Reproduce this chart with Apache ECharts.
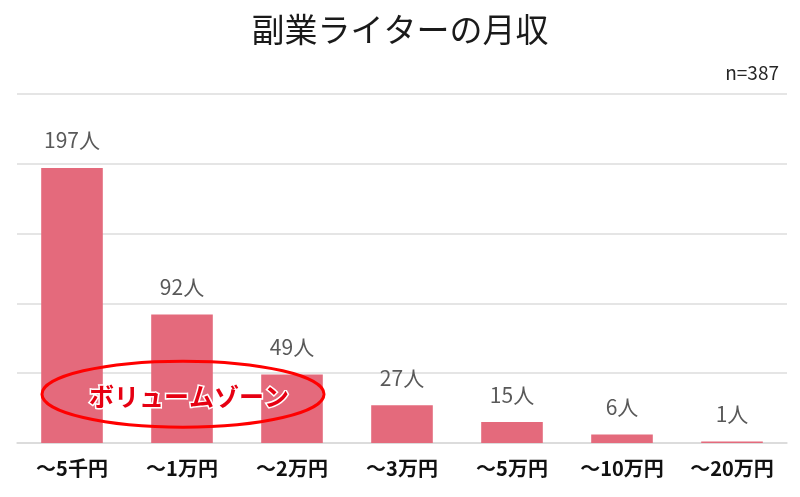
<!DOCTYPE html>
<html>
<head>
<meta charset="utf-8">
<script src="https://cdn.jsdelivr.net/npm/echarts@6/dist/echarts.min.js"></script>
<style>
	html, body { margin: 0; padding: 0; background: #fff; }
	#main { width: 800px; height: 497px; }
</style>
</head>
<body>
<div id="main"></div>
<script>
var categories = ['～5千円', '～1万円', '～2万円', '～3万円', '～5万円', '～10万円', '～20万円'];
var counts = [197, 92, 49, 27, 15, 6, 1];
var sampleSize = 387;

var font = '"Noto Sans CJK JP", "Noto Sans", sans-serif';

var chart = echarts.init(document.getElementById('main'));

chart.setOption({
	backgroundColor: '#fff',
	textStyle: { fontFamily: font },
	title: [{
		text: '副業ライターの月収',
		left: 'center',
		top: 8,
		textStyle: { fontSize: 33, fontWeight: 'normal', color: '#1a1a1a', fontFamily: font }
	}, {
		text: 'n=' + sampleSize,
		right: 16,
		top: 58,
		textStyle: { fontSize: 19, fontWeight: 'normal', color: '#262626', fontFamily: font }
	}],
	grid: { left: 17, right: 13, top: 94, bottom: 54, containLabel: false },
	xAxis: {
		type: 'category',
		data: categories,
		axisTick: { show: false },
		axisLine: { lineStyle: { color: '#d9d9d9', width: 1.5 } },
		axisLabel: {
			interval: 0,
			hideOverlap: false,
			fontSize: 20,
			fontWeight: 'bold',
			color: '#111',
			margin: 15,
			fontFamily: font
		}
	},
	yAxis: {
		type: 'value',
		min: 0,
		max: 250,
		interval: 50,
		axisLabel: { show: false },
		axisLine: { show: false },
		axisTick: { show: false },
		splitLine: { lineStyle: { color: '#dcdcdc', width: 1.5 } }
	},
	series: [{
		type: 'bar',
		data: counts,
		barWidth: '56%',
		itemStyle: { color: '#e46a7c' },
		label: {
			show: true,
			position: 'top',
			distance: 17,
			formatter: '{c}人',
			fontSize: 21,
			color: '#595959',
			fontFamily: font
		}
	}]
});

// ボリュームゾーン annotation around the first three bars
var c = chart.convertToPixel({ seriesIndex: 0 }, [1, 35]);
chart.setOption({
	graphic: [{
		type: 'ellipse',
		shape: { cx: c[0] + 1, cy: c[1], rx: 141, ry: 33 },
		style: { fill: 'none', stroke: '#ff0000', lineWidth: 3 },
		z: 100
	}, {
		type: 'text',
		x: c[0] + 7,
		y: c[1] + 2,
		style: {
			text: 'ボリュームゾーン',
			fill: '#e60012',
			stroke: '#fff',
			lineWidth: 3,
			font: 'bold 25px ' + font,
			align: 'center',
			verticalAlign: 'middle'
		},
		z: 101
	}]
});
</script>
</body>
</html>
